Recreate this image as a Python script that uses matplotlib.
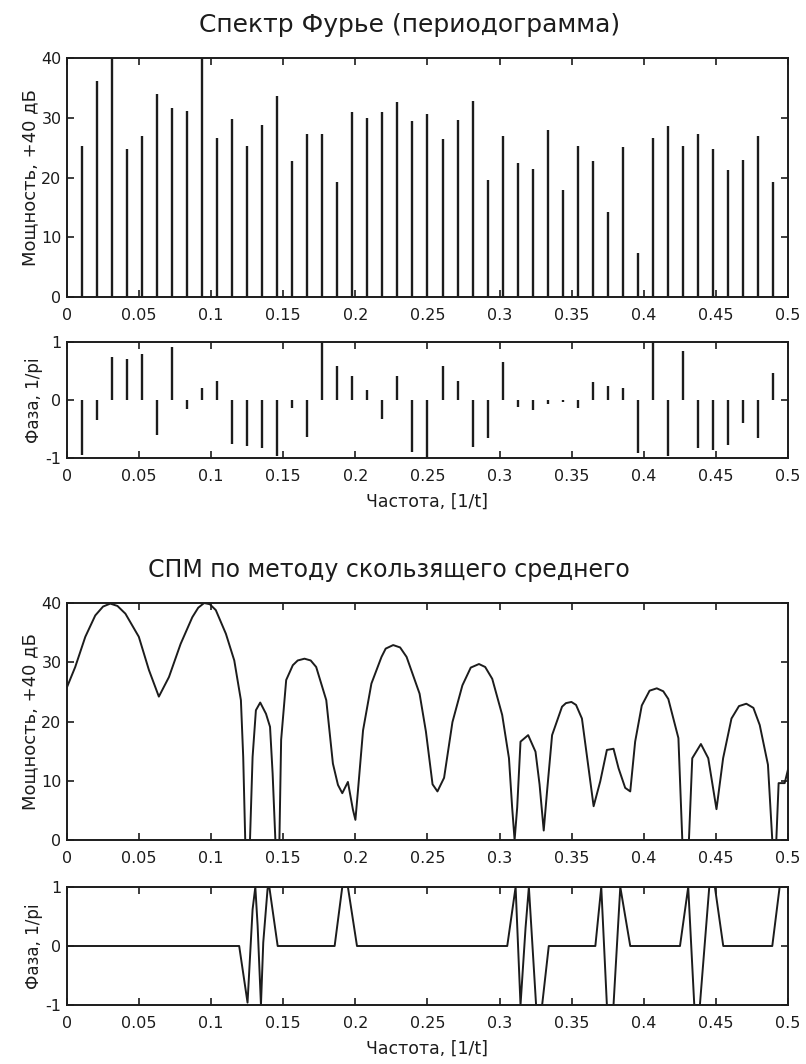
import matplotlib
matplotlib.use('Agg')
import matplotlib.pyplot as plt
import numpy as np

plt.rcParams['font.family'] = ['DejaVu Sans']
plt.rcParams['axes.unicode_minus'] = False

# periodogram: bins k/96, k = 1..47
k_bins = np.arange(1, 48)
freq = k_bins / 96.0
power_db = [25.2, 36.1, 40.0, 24.7, 27.0, 33.9, 31.6, 31.1, 40.0, 26.6,
            29.8, 25.2, 28.8, 33.7, 22.8, 27.3, 27.3, 19.2, 30.9, 29.9,
            31.0, 32.7, 29.5, 30.6, 26.4, 29.7, 32.8, 19.5, 26.9, 22.5,
            21.5, 27.9, 17.9, 25.2, 22.7, 14.3, 25.1, 7.4, 26.6, 28.6,
            25.2, 27.2, 24.8, 21.3, 22.9, 27.0, 19.3]
phase_pi = [-0.94, -0.34, 0.74, 0.71, 0.80, -0.60, 0.91, -0.16, 0.20, 0.33,
            -0.75, -0.80, -0.83, -0.96, -0.14, -0.64, 1.00, 0.58, 0.41, 0.17,
            -0.33, 0.42, -0.90, -1.00, 0.58, 0.32, -0.81, -0.65, 0.66, -0.12,
            -0.18, -0.07, -0.03, -0.14, 0.31, 0.25, 0.21, -0.91, 1.00, -0.97,
            0.85, -0.82, -0.86, -0.77, -0.40, -0.66, 0.47]

# moving-average PSD
spm_f = [0, 0.0057, 0.0127, 0.0196, 0.025, 0.030, 0.035, 0.0405, 0.0498, 0.0568,
         0.0637, 0.0707, 0.0788, 0.0869, 0.091, 0.0951, 0.099, 0.1032, 0.1102, 0.116,
         0.1206, 0.1222, 0.1236, 0.1269, 0.1287, 0.131, 0.134, 0.138, 0.1408, 0.1426,
         0.1445, 0.1473, 0.1485, 0.152, 0.1566, 0.160, 0.1647, 0.169, 0.1728, 0.1798,
         0.1844, 0.1879, 0.1909, 0.1948, 0.1983, 0.20, 0.2018, 0.2053, 0.2111, 0.2181,
         0.221, 0.2262, 0.231, 0.2355, 0.2445, 0.2489, 0.2535, 0.2569, 0.2615, 0.2673,
         0.2742, 0.280, 0.2857, 0.290, 0.2949, 0.3018, 0.3065, 0.3087, 0.3104, 0.3122,
         0.3145, 0.3198, 0.3249, 0.3277, 0.3306, 0.3329, 0.3364, 0.3433, 0.346, 0.3498,
         0.353, 0.3571, 0.3617, 0.3652, 0.3698, 0.3744, 0.379, 0.3825, 0.3871, 0.3906,
         0.394, 0.3986, 0.404, 0.409, 0.4135, 0.417, 0.424, 0.4267, 0.4313, 0.4336,
         0.4396, 0.4447, 0.4504, 0.455, 0.4608, 0.466, 0.4711, 0.476, 0.4804, 0.4861,
         0.4891, 0.4919, 0.4935, 0.4977, 0.5]
spm_db = [25.8, 29.2, 34.3, 37.9, 39.4, 39.9, 39.5, 38.2, 34.3, 28.7,
          24.2, 27.5, 33.1, 37.6, 39.2, 40.0, 39.8, 38.8, 34.8, 30.3,
          23.6, 14.0, 0, 0, 14.0, 21.9, 23.2, 21.3, 19.1, 11.2,
          0, 0, 16.9, 27.0, 29.5, 30.3, 30.6, 30.3, 29.2, 23.6,
          12.9, 9.3, 7.9, 9.8, 5.1, 3.4, 8.4, 18.5, 26.4, 30.9,
          32.3, 32.9, 32.5, 30.9, 24.7, 18.3, 9.4, 8.2, 10.5, 19.9,
          26.1, 29.1, 29.7, 29.2, 27.2, 21.1, 13.8, 5.5, 0, 5.5,
          16.6, 17.7, 14.9, 9.4, 1.6, 8.2, 17.7, 22.5, 23.1, 23.3,
          22.8, 20.5, 12.1, 5.7, 9.9, 15.2, 15.4, 12.1, 8.8, 8.2,
          16.6, 22.7, 25.2, 25.6, 25.1, 23.8, 17.2, 0, 0, 13.8,
          16.2, 13.8, 5.2, 13.8, 20.5, 22.6, 23.0, 22.3, 19.4, 12.7,
          0, 0, 9.6, 9.6, 11.9]
ph_f = [0, 0.1194, 0.1252, 0.1287, 0.1306, 0.1322, 0.1345, 0.1361, 0.1391, 0.1403,
        0.1461, 0.1856, 0.1909, 0.1948, 0.2011, 0.3053, 0.3111, 0.3145, 0.318, 0.3203,
        0.3253, 0.3295, 0.3341, 0.3664, 0.3705, 0.3744, 0.379, 0.3837, 0.3906, 0.4251,
        0.4308, 0.435, 0.4389, 0.4454, 0.4493, 0.4551, 0.4891, 0.4942, 0.5]
ph_v = [0, 0, -0.96, 0.62, 1, 0.34, -1, 0.06, 0.97, 1,
        0, 0, 1, 1, 0, 0, 1, -1, 0.31, 1,
        -1, -1, 0, 0, 1, -1, -1, 1, 0, 0,
        1, -1, -1, 1, 1, 0, 0, 1, 1]

xticks = [0, 0.05, 0.1, 0.15, 0.2, 0.25, 0.3, 0.35, 0.4, 0.45, 0.5]
xtick_labels = ['0', '0.05', '0.1', '0.15', '0.2', '0.25', '0.3', '0.35', '0.4', '0.45', '0.5']

ink = '#1c1c1c'
W, H = 806, 1064
fig = plt.figure(figsize=(W / 100, H / 100), dpi=100)

def box(top, bottom):
    return [67 / W, 1 - bottom / H, 721 / W, (bottom - top) / H]

ax1 = fig.add_axes(box(58, 297))
ax2 = fig.add_axes(box(342, 458))
ax3 = fig.add_axes(box(603, 840))
ax4 = fig.add_axes(box(887, 1005))

ax1.vlines(freq, 0, power_db, color=ink, lw=1.7)
ax2.vlines(freq, 0, phase_pi, color=ink, lw=1.7)
ax3.plot(spm_f, spm_db, color=ink, lw=1.4)
ax4.plot(ph_f, ph_v, color=ink, lw=1.4)

for ax in (ax1, ax3):
    ax.set_ylim(0, 40)
    ax.set_yticks([0, 10, 20, 30, 40])
    ax.set_ylabel('Мощность, +40 дБ', fontsize=13, color=ink, labelpad=1)
for ax in (ax2, ax4):
    ax.set_ylim(-1, 1)
    ax.set_yticks([-1, 0, 1])
    ax.set_ylabel('Фаза, 1/pi', fontsize=12, color=ink, labelpad=2)
    ax.set_xlabel('Частота, [1/t]', fontsize=12.5, color=ink, labelpad=6)

for ax in (ax1, ax2, ax3, ax4):
    ax.set_xlim(0, 0.5)
    ax.set_xticks(xticks)
    ax.set_xticklabels(xtick_labels)
    ax.tick_params(direction='in', top=True, right=True, length=5, width=1.2,
                   labelsize=11.5, colors=ink)
    ax.tick_params(axis='x', pad=8)
    ax.tick_params(axis='y', pad=4)
    for s in ax.spines.values():
        s.set_linewidth(1.4)
        s.set_color(ink)

fig.text(410 / W, 1 - 25 / H, 'Спектр Фурье (периодограмма)', ha='center', va='center',
         fontsize=18, color=ink)
fig.text(389 / W, 1 - 570 / H, 'СПМ по методу скользящего среднего', ha='center', va='center',
         fontsize=17, color=ink)

fig.savefig('out.png', dpi=100)
